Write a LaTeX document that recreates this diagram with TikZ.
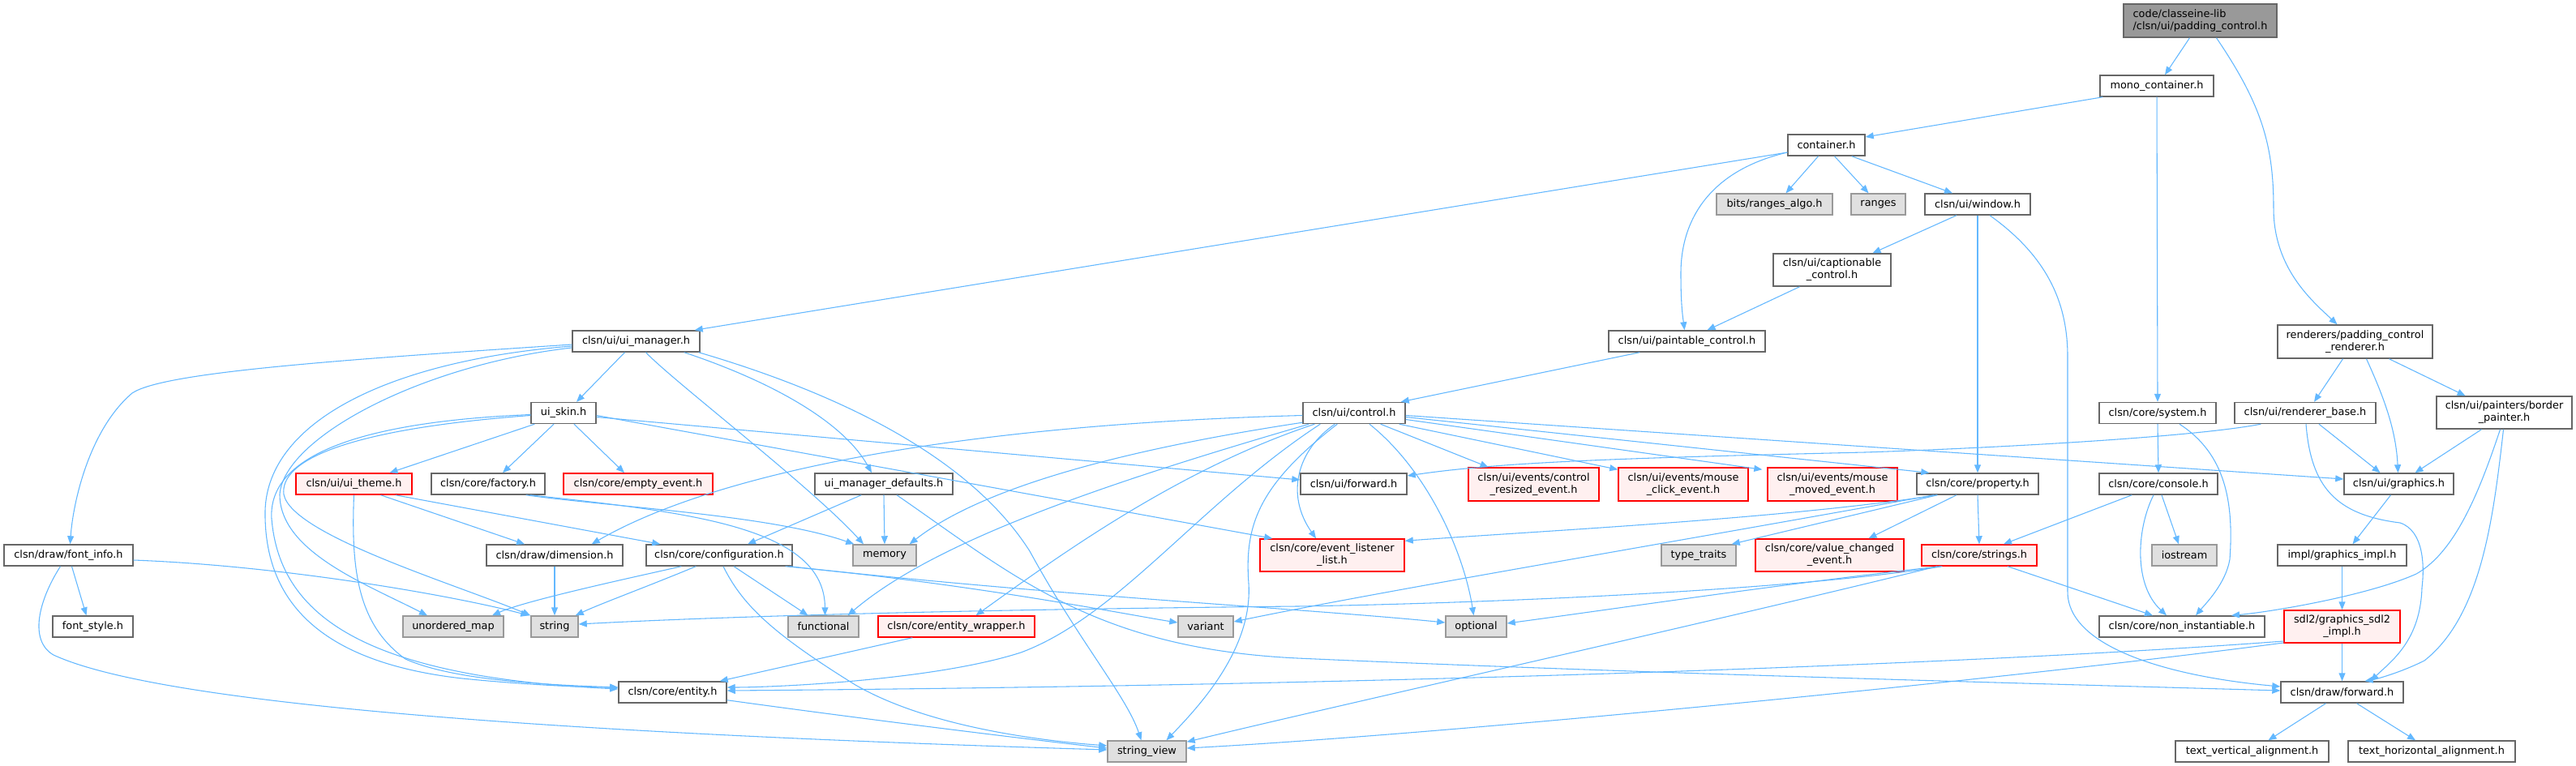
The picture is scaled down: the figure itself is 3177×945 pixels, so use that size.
\documentclass[tikz,border=0pt]{standalone}
\usepackage{fontspec}
\setmainfont{DejaVu Sans}
\usetikzlibrary{arrows.meta,calc}
\definecolor{edgec}{HTML}{63B8FF}
\definecolor{nodeborder}{HTML}{666666}
\definecolor{extborder}{HTML}{999999}
\definecolor{extfill}{HTML}{E0E0E0}
\definecolor{truncfill}{HTML}{FFF0F0}
\definecolor{rootfill}{HTML}{999999}
\newcommand\lbl{\fontsize{9.65}{11.3}\selectfont}
\tikzset{
 nbox/.style={draw=nodeborder, fill=white, line width=1.1pt, inner sep=0pt, font=\lbl, text=black, align=center},
 next/.style={nbox, draw=extborder, fill=extfill},
 ntrunc/.style={nbox, draw=red, fill=truncfill},
 nroot/.style={nbox, fill=rootfill, draw=nodeborder, align=left},
 sz/.style 2 args={minimum width=#1*0.75pt, minimum height=#2*0.75pt},
 edg/.style={draw=edgec, line width=0.8pt, -{Triangle[length=7.5pt,width=6pt]}}
}
\begin{document}
\begin{tikzpicture}[x=0.75pt,y=-0.75pt]
\fill[white] (0,0) rectangle (3177,945);
\useasboundingbox (0,0) rectangle (3177,945);
% ---------- nodes ----------
\node[nroot,sz={189}{41}] (root) at (2713.5,25.5) {code/classeine-lib\\/clsn/ui/padding\_control.h};
\node[nbox,sz={140}{26}] (mono) at (2660,106) {mono\_container.h};
\node[nbox,sz={95}{26}] (container) at (2252.5,179) {container.h};
\node[next,sz={143}{26}] (rangesalgo) at (2188.5,252) {bits/ranges\_algo.h};
\node[next,sz={67}{26}] (ranges) at (2316.5,252) {ranges};
\node[nbox,sz={130}{26}] (window) at (2439,252) {clsn/ui/window.h};
\node[nbox,sz={145}{40}] (captionable) at (2259.5,333) {clsn/ui/captionable\\\_control.h};
\node[nbox,sz={193}{26}] (paintable) at (2080.5,421) {clsn/ui/paintable\_control.h};
\node[nbox,sz={157}{26}] (uimgr) at (784.5,421) {clsn/ui/ui\_manager.h};
\node[nbox,sz={191}{41}] (renderer) at (2904.5,421.5) {renderers/padding\_control\\\_renderer.h};
\node[nbox,sz={126}{26}] (control) at (1670,509.5) {clsn/ui/control.h};
\node[nbox,sz={80}{26}] (uiskin) at (695,509.5) {ui\_skin.h};
\node[nbox,sz={144}{26}] (system) at (2661,509.5) {clsn/core/system.h};
\node[nbox,sz={174}{26}] (rbase) at (2843,509.5) {clsn/ui/renderer\_base.h};
\node[nbox,sz={167}{40}] (bpainter) at (3088.5,509) {clsn/ui/painters/border\\\_painter.h};
\node[ntrunc,sz={143}{26}] (uitheme) at (436.5,597) {clsn/ui/ui\_theme.h};
\node[nbox,sz={140}{26}] (factory) at (602,597) {clsn/core/factory.h};
\node[ntrunc,sz={184}{26}] (emptyev) at (787,597) {clsn/core/empty\_event.h};
\node[nbox,sz={170}{26}] (umd) at (1090,597) {ui\_manager\_defaults.h};
\node[nbox,sz={131}{26}] (ufwd) at (1669.5,597) {clsn/ui/forward.h};
\node[ntrunc,sz={161}{41}] (cresized) at (1891.5,597.5) {clsn/ui/events/control\\\_resized\_event.h};
\node[ntrunc,sz={160}{41}] (mclick) at (2076,597.5) {clsn/ui/events/mouse\\\_click\_event.h};
\node[ntrunc,sz={160}{41}] (mmoved) at (2260,597.5) {clsn/ui/events/mouse\\\_moved\_event.h};
\node[nbox,sz={150}{26}] (property) at (2439,597) {clsn/core/property.h};
\node[nbox,sz={146}{26}] (console) at (2662,597) {clsn/core/console.h};
\node[nbox,sz={135}{26}] (graphics) at (2958.5,597) {clsn/ui/graphics.h};
\node[nbox,sz={159}{26}] (fontinfo) at (84.5,685) {clsn/draw/font\_info.h};
\node[nbox,sz={168}{26}] (dimension) at (684,685) {clsn/draw/dimension.h};
\node[nbox,sz={180}{26}] (config) at (887,685) {clsn/core/configuration.h};
\node[next,sz={78}{26}] (memory) at (1091,685) {memory};
\node[ntrunc,sz={178}{40}] (evlist) at (1643,685) {clsn/core/event\_listener\\\_list.h};
\node[next,sz={92}{26}] (ttraits) at (2095,685) {type\_traits};
\node[ntrunc,sz={183}{40}] (valchanged) at (2256.5,685) {clsn/core/value\_changed\\\_event.h};
\node[ntrunc,sz={142}{26}] (strings) at (2441,685) {clsn/core/strings.h};
\node[next,sz={80}{26}] (iostream) at (2694,685) {iostream};
\node[nbox,sz={159}{26}] (gimpl) at (2888.5,685) {impl/graphics\_impl.h};
\node[nbox,sz={99}{26}] (fontstyle) at (114.5,773) {font\_style.h};
\node[next,sz={124}{26}] (umap) at (559,773) {unordered\_map};
\node[next,sz={58}{26}] (string) at (684,773) {string};
\node[next,sz={87}{26}] (functional) at (1015.5,773) {functional};
\node[ntrunc,sz={193}{26}] (ewrapper) at (1179.5,773) {clsn/core/entity\_wrapper.h};
\node[next,sz={68}{26}] (variant) at (1487,773) {variant};
\node[next,sz={75}{26}] (optional) at (1820.5,773) {optional};
\node[nbox,sz={204}{26}] (noninst) at (2691,773) {clsn/core/non\_instantiable.h};
\node[ntrunc,sz={143}{40}] (sdl2) at (2888.5,773) {sdl2/graphics\_sdl2\\\_impl.h};
\node[nbox,sz={133}{26}] (entity) at (829.5,854) {clsn/core/entity.h};
\node[nbox,sz={151}{26}] (dfwd) at (2888.5,854) {clsn/draw/forward.h};
\node[next,sz={97}{26}] (sv) at (1414.5,927) {string\_view};
\node[nbox,sz={189}{26}] (tvert) at (2777.5,927) {text\_vertical\_alignment.h};
\node[nbox,sz={206}{26}] (thoriz) at (2999,927) {text\_horizontal\_alignment.h};
% ---------- edges ----------
\draw[edg] ($(root.south)+(-13,0)$) -- ($(mono.north)+(10,0)$);
\draw[edg] ($(root.south)+(20,0)$) .. controls (2790,130) and (2804,180) .. (2804,257) .. controls (2804,330) and (2850,370) .. ($(renderer.north)+(-22,0)$);
\draw[edg] ($(mono.south west)+(4,0)$) -- ($(container.east)+(0,-10)$);
\draw[edg] (mono.south) -- (system.north);
\draw[edg] ($(container.west)+(0,9)$) -- ($(uimgr.north east)+(-7,0)$);
\draw[edg] ($(container.west)+(0,9)$) .. controls (2110,210) and (2072,270) .. (2073,340) .. controls (2073,380) and (2076,395) .. ($(paintable.north)+(-3,0)$);
\draw[edg] ($(container.south)+(-10,0)$) -- ($(rangesalgo.north)+(14,0)$);
\draw[edg] ($(container.south)+(10,0)$) -- ($(ranges.north)+(-12,0)$);
\draw[edg] ($(container.south east)+(-17,0)$) -- ($(window.north)+(-31,0)$);
\draw[edg] ($(window.south)+(-26,0)$) -- ($(captionable.north)+(50,0)$);
\draw[edg] ($(captionable.south)+(-40,0)$) -- ($(paintable.north)+(25,0)$);
\draw[edg] ($(paintable.south west)+(39,0)$) -- ($(control.north east)+(-6,0)$);
\draw[edg] (window.south) -- (property.north);
\draw[edg] ($(window.south)+(15,0)$) .. controls (2530,320) and (2550,380) .. (2550,440) -- (2550,730) .. controls (2550,800) and (2680,835) .. ($(dfwd.west)+(0,-7)$);
\draw[edg] ($(renderer.south)+(-15,0)$) -- ($(rbase.north)+(11,0)$);
\draw[edg] ($(renderer.south)+(14,0)$) .. controls (2940,490) and (2955,530) .. ($(graphics.north)+(-1,0)$);
\draw[edg] ($(renderer.south)+(42,0)$) -- ($(bpainter.north)+(-48,0)$);
\draw[edg] ($(rbase.south)+(17,0)$) -- ($(graphics.north)+(-23,0)$);
\draw[edg] ($(rbase.south)+(1,0)$) .. controls (2850,600) and (2880,635) .. (2960,645) .. controls (2990,655) and (2990,700) .. (2987,725) .. controls (2985,790) and (2950,815) .. ($(dfwd.north)+(35,0)$);
\draw[edg] ($(rbase.south west)+(33,0)$) .. controls (2700,540) and (2450,553) .. (2300,558) .. controls (2000,565) and (1850,570) .. ($(ufwd.east)+(0,-10)$);
\draw[edg] ($(bpainter.south)+(-28,0)$) -- ($(graphics.north)+(20,0)$);
\draw[edg] ($(bpainter.south)+(-5,0)$) .. controls (3060,600) and (3030,680) .. (2980,708) .. controls (2920,735) and (2800,755) .. ($(noninst.north)+(61,0)$);
\draw[edg] ($(bpainter.south)+(-1,0)$) .. controls (3075,640) and (3060,760) .. (2990,815) .. controls (2960,830) and (2930,838) .. ($(dfwd.north)+(28,0)$);
\draw[edg] ($(graphics.south)+(-10,0)$) -- ($(gimpl.north)+(13,0)$);
\draw[edg] (gimpl.south) -- (sdl2.north);
\draw[edg] (sdl2.south) -- (dfwd.north);
\draw[edg] ($(dfwd.south)+(-20,0)$) -- ($(tvert.north)+(20,0)$);
\draw[edg] ($(dfwd.south)+(18,0)$) -- ($(thoriz.north)+(-20,0)$);
\draw[edg] ($(sdl2.west)+(0,18)$) .. controls (2500,815) and (1800,845) .. ($(entity.east)+(0,-2)$);
\draw[edg] ($(sdl2.west)+(0,20)$) .. controls (2500,835) and (1800,905) .. ($(sv.east)+(0,-4)$);
\draw[edg] (system.south) -- (console.north);
\draw[edg] ($(system.south)+(27,0)$) .. controls (2745,560) and (2755,620) .. (2750,690) .. controls (2745,720) and (2720,745) .. ($(noninst.north)+(17,0)$);
\draw[edg] ($(console.south west)+(41,0)$) -- ($(strings.north)+(30,0)$);
\draw[edg] ($(console.south)+(-6,0)$) .. controls (2636,650) and (2630,720) .. ($(noninst.north)+(-19,0)$);
\draw[edg] ($(console.south)+(4,0)$) -- ($(iostream.north)+(-7,0)$);
\draw[edg] (property.south) -- (strings.north);
\draw[edg] ($(strings.south)+(35,0)$) -- ($(noninst.north)+(-36,0)$);
\draw[edg] ($(property.south west)+(26,0)$) .. controls (2200,640) and (1900,655) .. ($(evlist.north east)+(0,3)$);
\draw[edg] ($(property.south west)+(26,0)$) -- ($(ttraits.north east)+(-6,0)$);
\draw[edg] ($(property.south)+(-26,0)$) -- ($(valchanged.north)+(48,0)$);
\draw[edg] ($(property.south west)+(22,0)$) .. controls (2000,680) and (1700,730) .. ($(variant.east)+(0,-6)$);
\draw[edg] ($(strings.south west)+(24,0)$) .. controls (2200,720) and (2000,750) .. ($(optional.east)+(0,-4)$);
\draw[edg] ($(strings.south west)+(26,0)$) .. controls (2200,730) and (1800,745) .. (1600,748) .. controls (1200,752) and (900,760) .. ($(string.east)+(0,-3)$);
\draw[edg] ($(strings.south west)+(20,0)$) .. controls (2100,770) and (1650,870) .. ($(sv.north east)+(0,2)$);
\draw[edg] ($(config.south west)+(44,0)$) .. controls (800,708) and (650,740) .. ($(umap.north)+(48,0)$);
\draw[edg] ($(config.south west)+(62,0)$) .. controls (800,723) and (740,745) .. ($(string.north east)+(-4,0)$);
\draw[edg] ($(config.south)+(18,0)$) -- ($(functional.north)+(-19,0)$);
\draw[edg] ($(config.south)+(5,0)$) .. controls (915,745) and (950,780) .. (1055,845) .. controls (1150,900) and (1300,915) .. ($(sv.west)+(0,-7)$);
\draw[edg] ($(config.south east)+(-9,0)$) .. controls (1200,720) and (1400,760) .. ($(variant.west)+(0,-5)$);
\draw[edg] ($(config.south east)+(-4,0)$) .. controls (1300,735) and (1600,750) .. ($(optional.west)+(0,-5)$);
\draw[edg] ($(umd.south west)+(58,0)$) -- ($(config.north)+(35,0)$);
\draw[edg] (umd.south) -- (memory.north);
\draw[edg] ($(umd.south)+(16,0)$) .. controls (1250,710) and (1350,800) .. (1600,812) .. controls (2000,830) and (2500,843) .. ($(dfwd.west)+(0,-2)$);
\draw[edg] ($(factory.south east)+(-24,0)$) .. controls (750,625) and (950,635) .. ($(memory.north west)+(2,0)$);
\draw[edg] ($(factory.south east)+(-19,0)$) .. controls (850,632) and (1017,650) .. ($(functional.north)+(2,0)$);
\draw[edg] ($(uitheme.south)+(33,0)$) -- ($(dimension.north)+(-37,0)$);
\draw[edg] ($(uitheme.south east)+(-21,0)$) -- ($(config.north west)+(18,0)$);
\draw[edg] (uitheme.south) .. controls (433,700) and (440,770) .. (500,813) .. controls (560,840) and (680,845) .. ($(entity.west)+(0,-6)$);
\draw[edg] (dimension.south) -- (string.north);
\draw[edg] ($(fontinfo.south)+(4,0)$) -- ($(fontstyle.north)+(-8,0)$);
\draw[edg] ($(fontinfo.east)+(0,6)$) .. controls (350,698) and (560,735) .. ($(string.north west)+(-2,0)$);
\draw[edg] ($(fontinfo.south)+(-10,0)$) .. controls (48,740) and (35,790) .. (66,808) .. controls (200,870) and (700,905) .. ($(sv.west)+(0,-2)$);
\draw[edg] ($(entity.south east)+(0,-4)$) .. controls (1050,885) and (1250,910) .. ($(sv.west)+(0,-4)$);
\draw[edg] ($(ewrapper.south west)+(43,0)$) -- ($(entity.north east)+(-9,0)$);
\draw[edg] ($(uimgr.west)+(0,4)$) .. controls (400,445) and (200,460) .. (163,485) .. controls (110,530) and (90,620) .. ($(fontinfo.north)+(2,0)$);
\draw[edg] ($(uimgr.south)+(-14,0)$) -- ($(uiskin.north)+(16,0)$);
\draw[edg] ($(uimgr.south)+(12,0)$) .. controls (830,470) and (1000,600) .. ($(memory.north)+(-26,0)$);
\draw[edg] ($(uimgr.south east)+(-20,0)$) .. controls (950,470) and (1040,520) .. ($(umd.north)+(-15,0)$);
\draw[edg] ($(uimgr.south east)+(-2,0)$) .. controls (1050,490) and (1200,570) .. (1270,680) .. controls (1330,790) and (1390,860) .. ($(sv.north)+(-7,0)$);
\draw[edg] ($(uimgr.west)+(0,6)$) .. controls (480,445) and (330,520) .. (327,630) .. controls (325,760) and (420,820) .. (570,837) .. controls (650,845) and (720,848) .. ($(entity.west)+(0,-6)$);
\draw[edg] ($(uimgr.west)+(0,8)$) .. controls (520,450) and (350,540) .. (345,610) .. controls (345,680) and (450,720) .. ($(umap.north)+(-32,0)$);
\draw[edg] ($(uiskin.south west)+(5,0)$) -- ($(uitheme.north)+(44,0)$);
\draw[edg] ($(uiskin.south)+(-12,0)$) -- ($(factory.north)+(18,0)$);
\draw[edg] ($(uiskin.south)+(13,0)$) -- ($(emptyev.north)+(-17,0)$);
\draw[edg] ($(uiskin.west)+(0,2)$) .. controls (450,520) and (330,560) .. (335,640) .. controls (345,760) and (450,835) .. ($(entity.west)+(0,-4)$);
\draw[edg] ($(uiskin.west)+(0,3)$) .. controls (420,530) and (345,570) .. (350,610) .. controls (360,660) and (560,720) .. (string.north west);
\draw[edg] ($(uiskin.east)+(0,5)$) -- ($(ufwd.west)+(0,-5)$);
\draw[edg] ($(uiskin.east)+(0,3)$) -- ($(evlist.north west)+(16,0)$);
\draw[edg] ($(control.west)+(0,3)$) .. controls (1150,525) and (870,590) .. ($(dimension.north east)+(-39,0)$);
\draw[edg] ($(control.south west)+(0,-2)$) .. controls (1350,560) and (1200,610) .. ($(memory.north east)+(-9,0)$);
\draw[edg] ($(control.south west)+(8,0)$) .. controls (1350,600) and (1150,670) .. ($(functional.north)+(30,0)$);
\draw[edg] ($(control.south west)+(15,0)$) .. controls (1450,580) and (1300,690) .. ($(ewrapper.north)+(24,0)$);
\draw[edg] ($(control.south west)+(22,0)$) .. controls (1480,620) and (1380,760) .. (1259,805) .. controls (1150,840) and (950,848) .. ($(entity.east)+(0,-6)$);
\draw[edg] ($(control.south west)+(43,0)$) .. controls (1550,600) and (1535,650) .. (1540,720) .. controls (1545,800) and (1480,870) .. ($(sv.north)+(24,0)$);
\draw[edg] ($(control.south west)+(40,0)$) .. controls (1600,555) and (1585,610) .. ($(evlist.north)+(-20,0)$);
\draw[edg] ($(control.south)+(19,0)$) .. controls (1760,580) and (1805,680) .. ($(optional.north)+(-3,0)$);
\draw[edg] ($(control.south east)+(-31,0)$) -- ($(cresized.north)+(-56,0)$);
\draw[edg] ($(control.south east)+(-8,0)$) -- ($(mclick.north west)+(0,3)$);
\draw[edg] ($(control.east)+(0,8)$) -- ($(mmoved.north west)+(-6,3)$);
\draw[edg] ($(control.east)+(0,5)$) -- ($(property.north west)+(16,0)$);
\draw[edg] ($(control.east)+(0,3)$) -- ($(graphics.west)+(0,-6)$);
\end{tikzpicture}
\end{document}
